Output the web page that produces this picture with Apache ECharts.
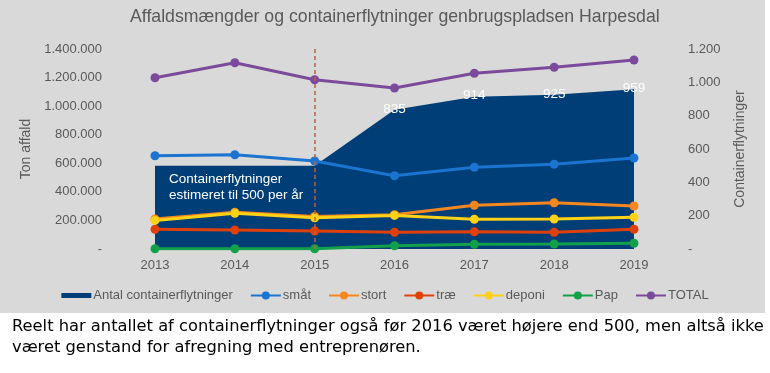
<!DOCTYPE html>
<html><head><meta charset="utf-8">
<script src="https://cdn.jsdelivr.net/npm/echarts@6/dist/echarts.min.js"></script>
<style>html,body{margin:0;padding:0;background:#fff}#c{width:770px;height:373px}</style>
</head><body><div id="c"></div>
<script>
const years = ['2013','2014','2015','2016','2017','2018','2019'];
const containerflytninger = [500, 500, 500, 835, 914, 925, 959];
const smaat = [653000, 660000, 616000, 513000, 572000, 593000, 637000];
const stort = [210000, 258000, 228000, 240000, 306000, 324000, 301000];
const trae = [138000, 133000, 126000, 117000, 121000, 117000, 138000];
const deponi = [200000, 250000, 218000, 235000, 208000, 210000, 222000];
const pap = [2000, 2000, 2000, 23000, 33000, 35000, 40000];
const total = [1199000, 1304000, 1185000, 1127000, 1230000, 1272000, 1323000];
const leftTicks = {min: 0, max: 1400000, interval: 200000};
const rightTicks = {min: 0, max: 1200, interval: 200};
const titleText = 'Affaldsmængder og containerflytninger genbrugspladsen Harpesdal';
const noteText = 'Containerflytninger\nestimeret til 500 per år';
const footText = 'Reelt har antallet af containerflytninger også før 2016 været højere end 500, men altså ikke\nværet genstand for afregning med entreprenøren.';

function fmt(v){ if(v===0) return '-'; return String(v).replace(/\B(?=(\d{3})+(?!\d))/g,'.'); }

const chart = echarts.init(document.getElementById('c'));
const font = 'Liberation Sans, Arial, sans-serif';
const gray = '#595959';
const navy = '#003e78';
function lineSeries(name, data, color){
  return {name, type:'line', data, yAxisIndex:0, symbol:'circle', symbolSize:9,
    lineStyle:{width:3, color}, itemStyle:{color}, z:3};
}
chart.setOption({
  backgroundColor:'#ffffff',
  textStyle:{fontFamily:font},
  animation:false,
  title:{text:titleText, left:125, top:3, textStyle:{fontSize:17.7, fontWeight:'normal', color:gray, fontFamily:font}},
  graphic:[
    {type:'rect', shape:{x:0,y:0,width:765,height:313}, style:{fill:'#d9d9d9'}, z:-10, silent:true},
    {type:'text', left:169, top:171, z:10, style:{text:noteText, fill:'#ffffff', font:'13.5px Liberation Sans, Arial', lineHeight:16}},
    {type:'text', left:12, top:316, z:10, style:{text:footText, fill:'#000000', font:'16.3px DejaVu Sans, Verdana, sans-serif', lineHeight:21}}
  ],
  legend:{top:284, left:'center', itemGap:17, itemWidth:30, itemHeight:10, symbolKeepAspect:true,
    textStyle:{fontSize:13, color:gray, fontFamily:font, padding:[0,0,0,-3]},
    data:[{name:'Antal containerflytninger', icon:'path://M0,0h30v5h-30z', itemStyle:{color:navy, opacity:1}}, 'småt','stort','træ','deponi','Pap','TOTAL']},
  grid:{left:155, right:136, top:49, bottom:124},
  xAxis:{type:'category', data:years, boundaryGap:false,
    axisLine:{show:false}, axisTick:{show:false},
    axisLabel:{color:gray, fontSize:13, margin:10}},
  yAxis:[
    {type:'value', min:leftTicks.min, max:leftTicks.max, interval:leftTicks.interval,
     name:'Ton affald', nameLocation:'middle', nameGap:118, nameTextStyle:{color:gray, fontSize:14},
     splitLine:{show:false}, axisLine:{show:false}, axisTick:{show:false},
     axisLabel:{color:gray, fontSize:13, margin:53, formatter:fmt}},
    {type:'value', min:rightTicks.min, max:rightTicks.max, interval:rightTicks.interval, position:'right',
     name:'Containerflytninger', nameLocation:'middle', nameGap:99, nameTextStyle:{color:gray, fontSize:14},
     splitLine:{show:false}, axisLine:{show:false}, axisTick:{show:false},
     axisLabel:{color:gray, fontSize:13, margin:54, formatter:fmt}}
  ],
  series:[
    {name:'Antal containerflytninger', type:'line', yAxisIndex:1, data:containerflytninger,
     symbol:'circle', symbolSize:1, showSymbol:true, lineStyle:{width:0, color:navy}, itemStyle:{color:'rgba(0,0,0,0)'},
     areaStyle:{color:navy, opacity:1}, z:1,
     label:{show:true, position:'inside', color:'#ffffff', fontSize:13.5, offset:[0,-1],
       formatter:p => p.dataIndex>=3 ? String(p.value) : ''},
     markLine:{silent:true, symbol:'none', label:{show:false},
       lineStyle:{type:[4,3], color:'#c0603a', width:1.5},
       data:[{xAxis:'2015'}]}},
    lineSeries('småt', smaat, '#1a74d0'),
    lineSeries('stort', stort, '#f5871f'),
    lineSeries('træ', trae, '#e0400c'),
    lineSeries('deponi', deponi, '#fcd116'),
    lineSeries('Pap', pap, '#12a04a'),
    lineSeries('TOTAL', total, '#7b4a9b')
  ]
});
</script></body></html>
